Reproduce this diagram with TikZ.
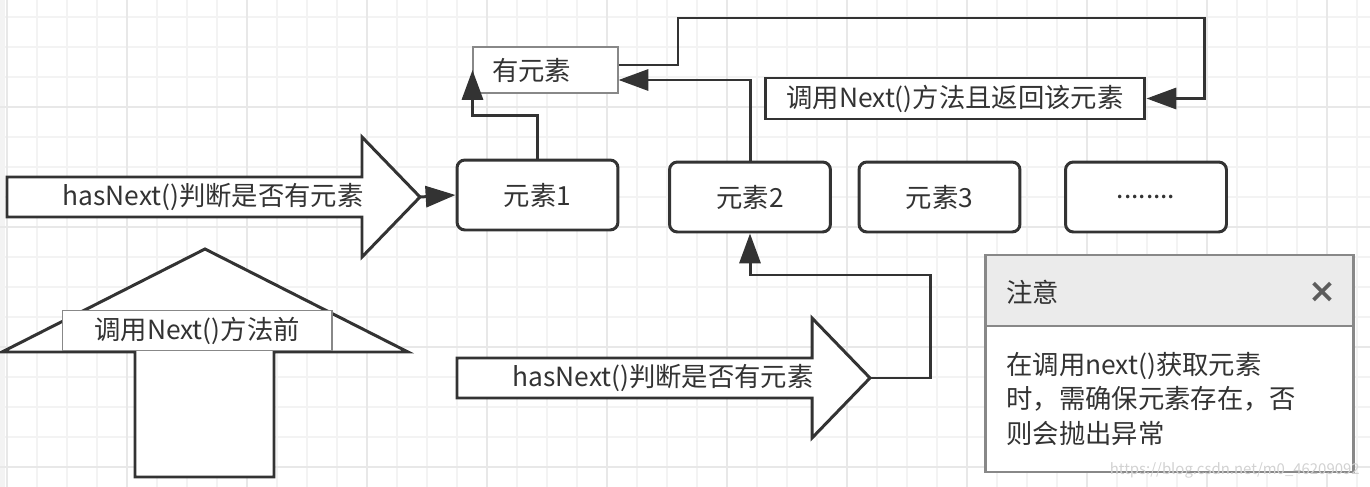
\documentclass[tikz,border=0pt]{standalone}
\usepackage{fontspec}
\setmainfont{Noto Sans CJK SC}
\newfontfamily\markfont{DejaVu Sans}
\usepackage{xcolor}
\usetikzlibrary{arrows.meta}

\definecolor{ink}{HTML}{333333}
\definecolor{gridminor}{HTML}{F3F3F3}
\definecolor{gridmajor}{HTML}{E8E8E8}
\definecolor{framegray}{HTML}{888888}
\definecolor{headgray}{HTML}{EBEBEB}

\tikzset{
  txt/.style={text=ink, font=\fontsize{15pt}{18pt}\selectfont},
  elem/.style={txt, draw=ink, line width=1.7pt, rounded corners=4.5pt, fill=white,
    minimum width=3.22cm, minimum height=1.4cm},
  tag/.style={txt, draw=framegray, line width=0.6pt, fill=white},
  flow/.style={draw=ink, line width=1.7pt, -{Triangle[length=17pt,width=12pt]}},
  bigarrow/.style={draw=ink, line width=1.7pt, fill=white, line join=miter},
}

\begin{document}
\begin{tikzpicture}[x=0.02cm, y=-0.02cm]
  \useasboundingbox (0,0) rectangle (1370,487);
  % grid
  \fill[gridminor] (0,0) rectangle (5,487);
  \foreach \x in {7,37,...,1370} \draw[gridminor, line width=0.8pt] (\x,0) -- (\x,487);
  \foreach \y in {17,47,...,487} \draw[gridminor, line width=0.8pt] (0,\y) -- (1370,\y);
  \foreach \x in {7,127,...,1370} \draw[gridmajor, line width=0.9pt] (\x,0) -- (\x,487);
  \foreach \y in {107,227,347,467} \draw[gridmajor, line width=0.9pt] (0,\y) -- (1370,\y);

  % block arrows
  \draw[bigarrow] (7,177) -- (362,177) -- (362,137) -- (420,197) -- (362,257) -- (362,217) -- (7,217) -- cycle;
  \coordinate (tip1) at (420,197);
  \node[txt] (hint1) at (213,197) {hasNext()判断是否有元素};

  \draw[bigarrow] (457,358) -- (812,358) -- (812,318) -- (870,378) -- (812,438) -- (812,398) -- (457,398) -- cycle;
  \coordinate (tip2) at (870,378);
  \node[txt] (hint2) at (663,378) {hasNext()判断是否有元素};

  \draw[bigarrow] (205,249) -- (408,352) -- (274,352) -- (274,477) -- (135,477) -- (135,352) -- (2,352) -- cycle;
  \node[tag, minimum width=5.4cm, minimum height=0.74cm] (before) at (197,330.5) {调用Next()方法前};

  % elements
  \node[elem] (e1) at (537.5,195) {元素1};
  \node[elem] (e2) at (750,197) {元素2};
  \node[elem] (e3) at (939.5,197) {元素3};
  \node[elem] (e4) at (1146,197) {........};

  \node[tag, minimum height=0.92cm, inner xsep=0.38cm, text width=2.14cm, align=left] (has) at (545.5,70) {有元素};
  \node[txt, draw=ink, line width=1.7pt, fill=white, minimum width=7.6cm, minimum height=0.82cm] (call) at (955,98.5) {调用Next()方法且返回该元素};

  % connectors
  \draw[flow] (tip1) -- (e1.west);
  \draw[flow] (e1.north) -- ++(0,-43) -| (has.west);
  \draw[flow] (e2.north) |- ([yshift=-0.2cm]has.east);
  \draw[flow] ([yshift=0.1cm]has.east) -| (678,18) -- (1204,18) |- (call.east);
  \draw[flow] (tip2) -| (930,275) -| (e2.south);

  % note
  \fill[white] (985,255) rectangle (1353,472);
  \fill[headgray] (985,255) rectangle (1353,326);
  \draw[framegray, line width=1.7pt] (985,326) -- (1353,326);
  \draw[framegray, line width=1.7pt] (985,255) rectangle (1353,472);
  \node[txt, anchor=west, inner sep=0pt] (notehead) at (1006,292) {注意};
  \node[text=ink!80, font=\markfont\bfseries\fontsize{19pt}{19pt}\selectfont, inner sep=0pt] (noteclose) at (1322,292) {×};
  \node[txt, anchor=north west, inner sep=0pt, align=left, font=\fontsize{15pt}{19.6pt}\selectfont] (notebody) at (1006,352)
    {在调用next()获取元素\\时，需确保元素存在，否\\则会抛出异常};
  \node[text=gray!35, font=\fontsize{8.5pt}{10pt}\selectfont, anchor=east, inner sep=0pt] (mark) at (1360,470) {https://blog.csdn.net/m0\_46209092};
\end{tikzpicture}
\end{document}
